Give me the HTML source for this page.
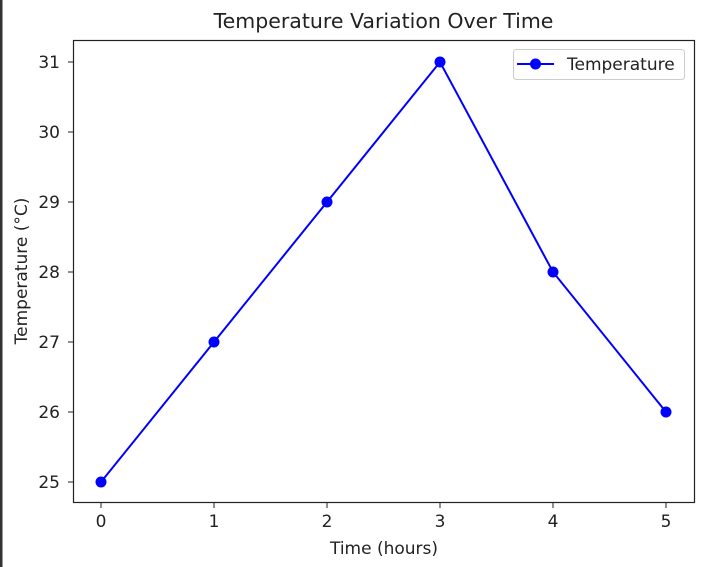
<!DOCTYPE html>
<html><head><style>body{margin:0;background:#fff;}svg{display:block;}</style></head>
<body>
<svg width="703" height="567" xmlns="http://www.w3.org/2000/svg" font-family="'DejaVu Sans','Liberation Sans',sans-serif">
<rect x="0" y="0" width="703" height="567" fill="#fff"/>
<rect x="0" y="0" width="2.5" height="567" fill="#333"/>
<text x="383.5" y="28" font-size="20.5" text-anchor="middle" fill="#222">Temperature Variation Over Time</text>
<rect x="73.5" y="40.5" width="621" height="462" fill="none" stroke="#222" stroke-width="1.2"/>
<g stroke="#222" stroke-width="1">
<line x1="101" y1="503" x2="101" y2="508"/><line x1="214" y1="503" x2="214" y2="508"/><line x1="327" y1="503" x2="327" y2="508"/><line x1="440" y1="503" x2="440" y2="508"/><line x1="553" y1="503" x2="553" y2="508"/><line x1="666" y1="503" x2="666" y2="508"/>
<line x1="68" y1="482" x2="73" y2="482"/><line x1="68" y1="412" x2="73" y2="412"/><line x1="68" y1="342" x2="73" y2="342"/><line x1="68" y1="272" x2="73" y2="272"/><line x1="68" y1="202" x2="73" y2="202"/><line x1="68" y1="132" x2="73" y2="132"/><line x1="68" y1="62" x2="73" y2="62"/>
</g>
<g font-size="17" fill="#222" text-anchor="middle">
<text x="101" y="527">0</text><text x="214" y="527">1</text><text x="327" y="527">2</text><text x="440" y="527">3</text><text x="553" y="527">4</text><text x="666" y="527">5</text>
</g>
<g font-size="17" fill="#222" text-anchor="end">
<text x="60" y="488">25</text><text x="60" y="418">26</text><text x="60" y="348">27</text><text x="60" y="278">28</text><text x="60" y="208">29</text><text x="60" y="138">30</text><text x="60" y="68">31</text>
</g>
<text x="384" y="554" font-size="17" text-anchor="middle" fill="#222">Time (hours)</text>
<text transform="translate(27,271) rotate(-90)" font-size="17" text-anchor="middle" fill="#222">Temperature (°C)</text>
<polyline points="101,482 214,342 327,202 440,62 553,272 666,412" fill="none" stroke="#0000ff" stroke-width="2"/>
<g fill="#0000ff">
<circle cx="101" cy="482" r="5.5"/><circle cx="214" cy="342" r="5.5"/><circle cx="327" cy="202" r="5.5"/><circle cx="440" cy="62" r="5.5"/><circle cx="553" cy="272" r="5.5"/><circle cx="666" cy="412" r="5.5"/>
</g>
<rect x="513.5" y="49.5" width="171" height="30" rx="3" fill="#fff" stroke="#ccc"/>
<line x1="517" y1="64" x2="554" y2="64" stroke="#0000ff" stroke-width="2"/>
<circle cx="535.5" cy="64" r="5.5" fill="#0000ff"/>
<text x="567" y="70" font-size="17" fill="#222">Temperature</text>
</svg>
</body></html>
